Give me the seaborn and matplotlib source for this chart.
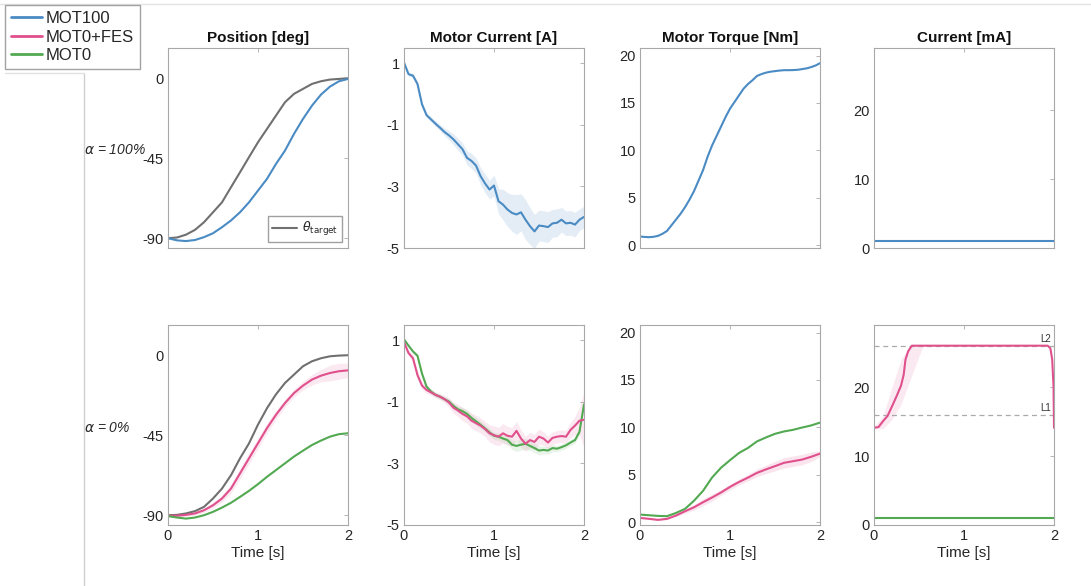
import numpy as np
import pandas as pd
import matplotlib
matplotlib.use("Agg")
import matplotlib.pyplot as plt
from matplotlib.lines import Line2D
import seaborn as sns

# ---- colours ----
BLUE = "#4a8bc4"
PINK = "#e0508c"
GREEN = "#52a952"
GRAY = "#707070"

# ---- time bases ----
t_smooth = np.round(np.arange(0, 2.01, 0.1), 2)     # 21 samples
t_fine = np.round(np.arange(0, 2.001, 0.05), 3)     # 41 samples

# ---- Position [deg] ----
pos_target_top = [-90, -89.6, -88, -85.3, -81, -75.4, -69.8, -61.3, -52.9, -44.4, -36,
                  -28.5, -21, -13.5, -8.8, -6, -3.2, -1.7, -0.75, -0.4, 0]
pos_mot100 = [-90, -91.2, -91.6, -91, -89.4, -87.2, -83.8, -80, -75.4, -69.8, -63.2,
              -56.6, -48.2, -40.7, -31.3, -22.9, -15.4, -9.2, -4.7, -1.7, -0.4]
pos_target_bot = [-90, -89.8, -89, -87.7, -85.3, -80.6, -75, -67.5, -58, -49.6, -39,
                  -29.8, -22, -15.6, -10.9, -6.2, -3.4, -1.7, -0.6, -0.2, 0]
pos_fes = [-90.3, -90.3, -89.8, -89, -87.2, -84.4, -80.6, -75, -66.5, -58, -49.5,
           -41, -33.5, -26.9, -21.3, -17.1, -13.7, -11.5, -10, -9, -8.5]
pos_fes_sd = [0.5, 0.6, 0.8, 1, 1.2, 1.5, 2, 2.5, 3, 3, 3, 2.8, 2.5, 2.2, 2.2, 2.5,
              3, 3.5, 4.5, 4.5, 4]
pos_mot0 = [-90.5, -91.3, -91.9, -91.3, -90, -88.1, -85.7, -83, -79.7, -76.3, -72.5,
            -68.4, -64.6, -60.8, -57, -53.7, -50.5, -48, -45.8, -44.4, -43.9]

# ---- Motor Current [A] ----
mc_mot100 = [1.03, 0.65, 0.6, 0.33, -0.33, -0.68, -0.82, -0.96, -1.09, -1.23, -1.34,
             -1.47, -1.63, -1.79, -2.07, -2.17, -2.32, -2.66, -2.9, -3.1, -2.97,
             -3.48, -3.59, -3.75, -3.86, -3.91, -3.84, -4.08, -4.29, -4.46, -4.27,
             -4.29, -4.32, -4.2, -4.18, -4.08, -4.2, -4.18, -4.24, -4.08, -3.99]
mc_mot100_sd = [0.05, 0.06, 0.07, 0.08, 0.08, 0.08, 0.08, 0.1, 0.1, 0.12, 0.15,
                0.18, 0.2, 0.2, 0.22, 0.25, 0.25, 0.28, 0.3, 0.3, 0.35,
                0.4, 0.5, 0.55, 0.6, 0.65, 0.6, 0.65, 0.6, 0.55, 0.5,
                0.5, 0.5, 0.45, 0.45, 0.4, 0.4, 0.4, 0.4, 0.35, 0.35]
mc_fes = [0.94, 0.59, 0.42, -0.13, -0.47, -0.61, -0.69, -0.77, -0.83, -0.91, -1.02,
          -1.19, -1.28, -1.39, -1.47, -1.61, -1.69, -1.77, -1.88, -2.02, -2.08,
          -2.13, -2.02, -2.1, -2.13, -1.94, -2.19, -2.36, -2.24, -2.3, -2.13,
          -2.19, -2.32, -2.17, -2.13, -2.11, -2.13, -1.91, -1.77, -1.61, -1.58]
mc_fes_sd = [0.1, 0.1, 0.12, 0.12, 0.12, 0.1, 0.1, 0.1, 0.1, 0.12, 0.15,
             0.18, 0.2, 0.22, 0.22, 0.25, 0.25, 0.25, 0.25, 0.28, 0.3,
             0.3, 0.32, 0.3, 0.3, 0.3, 0.28, 0.25, 0.25, 0.25, 0.25,
             0.22, 0.2, 0.2, 0.2, 0.2, 0.2, 0.25, 0.3, 0.45, 0.9]
mc_mot0 = [1.03, 0.83, 0.64, 0.5, -0.08, -0.5, -0.66, -0.77, -0.83, -0.91, -0.99,
           -1.13, -1.24, -1.3, -1.39, -1.52, -1.63, -1.74, -1.86, -1.99, -2.1,
           -2.13, -2.19, -2.24, -2.39, -2.43, -2.39, -2.36, -2.43, -2.5, -2.58,
           -2.56, -2.58, -2.5, -2.52, -2.47, -2.41, -2.32, -2.24, -1.97, -1.08]
mc_mot0_sd = [0.05, 0.05, 0.06, 0.06, 0.08, 0.08, 0.08, 0.08, 0.08, 0.08, 0.1,
              0.1, 0.1, 0.12, 0.12, 0.12, 0.12, 0.12, 0.12, 0.12, 0.12,
              0.12, 0.12, 0.15, 0.15, 0.18, 0.18, 0.18, 0.15, 0.15, 0.15,
              0.12, 0.12, 0.12, 0.1, 0.1, 0.1, 0.1, 0.1, 0.1, 0.1]

# ---- Motor Torque [Nm] ----
tq_mot100 = [0.91, 0.87, 0.84, 0.88, 0.98, 1.2, 1.5, 2.1, 2.7, 3.3, 4.0,
             4.8, 5.7, 6.8, 7.9, 9.3, 10.5, 11.5, 12.5, 13.5, 14.4,
             15.1, 15.8, 16.5, 17.0, 17.4, 17.85, 18.05, 18.2, 18.3, 18.36,
             18.42, 18.46, 18.46, 18.47, 18.5, 18.57, 18.65, 18.78, 18.95, 19.2]
tq_fes = [0.45, 0.35, 0.24, 0.35, 0.7, 1.15, 1.57, 2.1, 2.6, 3.13, 3.72,
          4.24, 4.7, 5.2, 5.57, 5.91, 6.26, 6.43, 6.6, 6.89, 7.23]
tq_fes_sd = [0.05, 0.05, 0.05, 0.08, 0.1, 0.2, 0.3, 0.35, 0.35, 0.3, 0.3,
             0.3, 0.35, 0.4, 0.45, 0.5, 0.55, 0.55, 0.55, 0.5, 0.3]
tq_mot0 = [0.8, 0.73, 0.66, 0.63, 0.97, 1.4, 2.26, 3.3, 4.7, 5.74, 6.54,
           7.3, 7.83, 8.52, 8.94, 9.32, 9.57, 9.74, 9.98, 10.2, 10.5]

# ---- Stimulation Current [mA] ----
cur_level = 1.0
t_stim = [0, 0.05, 0.1, 0.15, 0.2, 0.25, 0.3, 0.33, 0.35, 0.38, 0.42,
          1.93, 1.96, 1.98, 1.995, 2.0]
cur_fes = [14.1, 14.2, 15.05, 15.8, 17.2, 18.65, 20.2, 21.8, 24.0, 25.2, 26.0,
           26.0, 25.6, 24.0, 20.0, 14.1]
t_stim_band = [0, 0.1, 0.2, 0.3, 0.4, 0.5, 0.55]
cur_fes_lo = [13.9, 14.0, 15.3, 17.5, 21.0, 24.5, 26.0]
cur_fes_hi = [14.3, 15.8, 20.0, 24.0, 26.0, 26.0, 26.0]
L1, L2 = 16.0, 26.0

col_titles = ["Position [deg]", "Motor Current [A]", "Motor Torque [Nm]", "Current [mA]"]
row_labels = [r"$\alpha$ = 100%", r"$\alpha$ = 0%"]

# ---- figure ----
sns.set_theme(style="white")
plt.rcParams["font.family"] = ["Liberation Sans", "DejaVu Sans"]
plt.rcParams["mathtext.fontset"] = "dejavusans"
plt.rcParams["axes.unicode_minus"] = False

W, H = 1091, 586
fig = plt.figure(figsize=(W / 100, H / 100), dpi=100)
fig.patch.set_facecolor("white")

lefts = [168, 404, 640, 874]
tops = [48, 325]
aw, ah = 180, 200

axes = [[None] * 4 for _ in range(2)]
for r in range(2):
    for c in range(4):
        ax = fig.add_axes([lefts[c] / W, 1 - (tops[r] + ah) / H, aw / W, ah / H])
        axes[r][c] = ax


def line(ax, x, y, color, lw=1.5):
    sns.lineplot(x=x, y=y, ax=ax, color=color, linewidth=lw, legend=False)


def band(ax, x, y, sd, color, alpha=0.15):
    y = np.asarray(y)
    sd = np.asarray(sd)
    ax.fill_between(x, y - sd, y + sd, color=color, alpha=alpha, linewidth=0)


# row 1: alpha = 100%
ax = axes[0][0]
line(ax, t_smooth, pos_target_top, GRAY)
line(ax, t_smooth, pos_mot100, BLUE)
ax.legend(handles=[Line2D([], [], color=GRAY, lw=1.5)],
          labels=[r"$\theta_{\mathrm{target}}$"], loc="lower right",
          fontsize=9, frameon=True, fancybox=False, edgecolor="#888888",
          handlelength=2.0, borderpad=0.3, handletextpad=0.4)

ax = axes[0][1]
band(ax, t_fine, mc_mot100, mc_mot100_sd, BLUE)
line(ax, t_fine, mc_mot100, BLUE)

ax = axes[0][2]
line(ax, t_fine, tq_mot100, BLUE)

ax = axes[0][3]
line(ax, [0, 2], [cur_level, cur_level], BLUE)

# row 2: alpha = 0%
ax = axes[1][0]
line(ax, t_smooth, pos_target_bot, GRAY)
band(ax, t_smooth, pos_fes, pos_fes_sd, PINK, alpha=0.12)
line(ax, t_smooth, pos_fes, PINK)
line(ax, t_smooth, pos_mot0, GREEN)

ax = axes[1][1]
band(ax, t_fine, mc_fes, mc_fes_sd, PINK, alpha=0.12)
band(ax, t_fine, mc_mot0, mc_mot0_sd, GREEN, alpha=0.12)
line(ax, t_fine, mc_mot0, GREEN)
line(ax, t_fine, mc_fes, PINK)

ax = axes[1][2]
band(ax, t_smooth, tq_fes, tq_fes_sd, PINK, alpha=0.15)
line(ax, t_smooth, tq_mot0, GREEN)
line(ax, t_smooth, tq_fes, PINK)

ax = axes[1][3]
ax.axhline(L2, color="#aaaaaa", lw=0.9, ls=(0, (4, 3)))
ax.axhline(L1, color="#aaaaaa", lw=0.9, ls=(0, (4, 3)))
ax.fill_between(t_stim_band, cur_fes_lo, cur_fes_hi, color=PINK, alpha=0.12, linewidth=0)
line(ax, t_stim, cur_fes, PINK)
line(ax, [0, 2], [cur_level, cur_level], GREEN)
ax.text(1.97, L2 + 0.3, "L2", fontsize=7, ha="right", va="bottom", color="#333333")
ax.text(1.97, L1 + 0.3, "L1", fontsize=7, ha="right", va="bottom", color="#333333")

# ---- axes styling ----
ylims = [(-95.5, 17), (-5, 1.5), (-0.3, 20.8), (0, 29)]
yticks = [[-90, -45, 0], [-5, -3, -1, 1], [0, 5, 10, 15, 20], [0, 10, 20]]
for r in range(2):
    for c in range(4):
        ax = axes[r][c]
        ax.set_xlim(0, 2)
        ax.set_ylim(*ylims[c])
        ax.set_xticks([0, 1, 2])
        ax.set_yticks(yticks[c])
        ax.set_facecolor("white")
        for s in ax.spines.values():
            s.set_visible(True)
            s.set_color("#a8a8a8")
            s.set_linewidth(0.8)
        ax.tick_params(direction="in", length=3, width=0.6, color="#a8a8a8",
                       top=True, right=True, labelsize=10.5, labelcolor="#262626",
                       pad=3)
        ax.grid(False)
        ax.set_ylabel("")
        if r == 0:
            ax.set_xticklabels([])
            ax.set_xlabel("")
            ax.set_title(col_titles[c], fontsize=11, fontweight="bold", pad=4,
                         color="#111111")
        else:
            ax.set_xlabel("Time [s]", fontsize=11, color="#262626", labelpad=2)

# row labels
fig.text(84 / W, 1 - 150 / H, row_labels[0], fontsize=10, style="italic",
         ha="left", va="center")
fig.text(84 / W, 1 - 428 / H, row_labels[1], fontsize=10, style="italic",
         ha="left", va="center")

# frame lines
fig.add_artist(Line2D([0.0, 1.0], [1 - 4 / H, 1 - 4 / H], color="#e3e3e3", lw=1))
fig.add_artist(Line2D([84 / W, 84 / W], [1 - 73 / H, 0], color="#cfcfcf", lw=1))
fig.add_artist(Line2D([5 / W, 84 / W], [1 - 73 / H, 1 - 73 / H], color="#e3e3e3", lw=1))

# figure legend
handles = [Line2D([], [], color=BLUE, lw=2), Line2D([], [], color=PINK, lw=2),
           Line2D([], [], color=GREEN, lw=2)]
fig.legend(handles, ["MOT100", "MOT0+FES", "MOT0"], loc="upper left",
           bbox_to_anchor=(5 / W, 1 - 5 / H), fontsize=12, frameon=True,
           fancybox=False, edgecolor="#8c8c8c", handlelength=1.9,
           borderpad=0.35, labelspacing=0.22, handletextpad=0.2, borderaxespad=0)

fig.savefig("out.png", dpi=100, facecolor="white")
